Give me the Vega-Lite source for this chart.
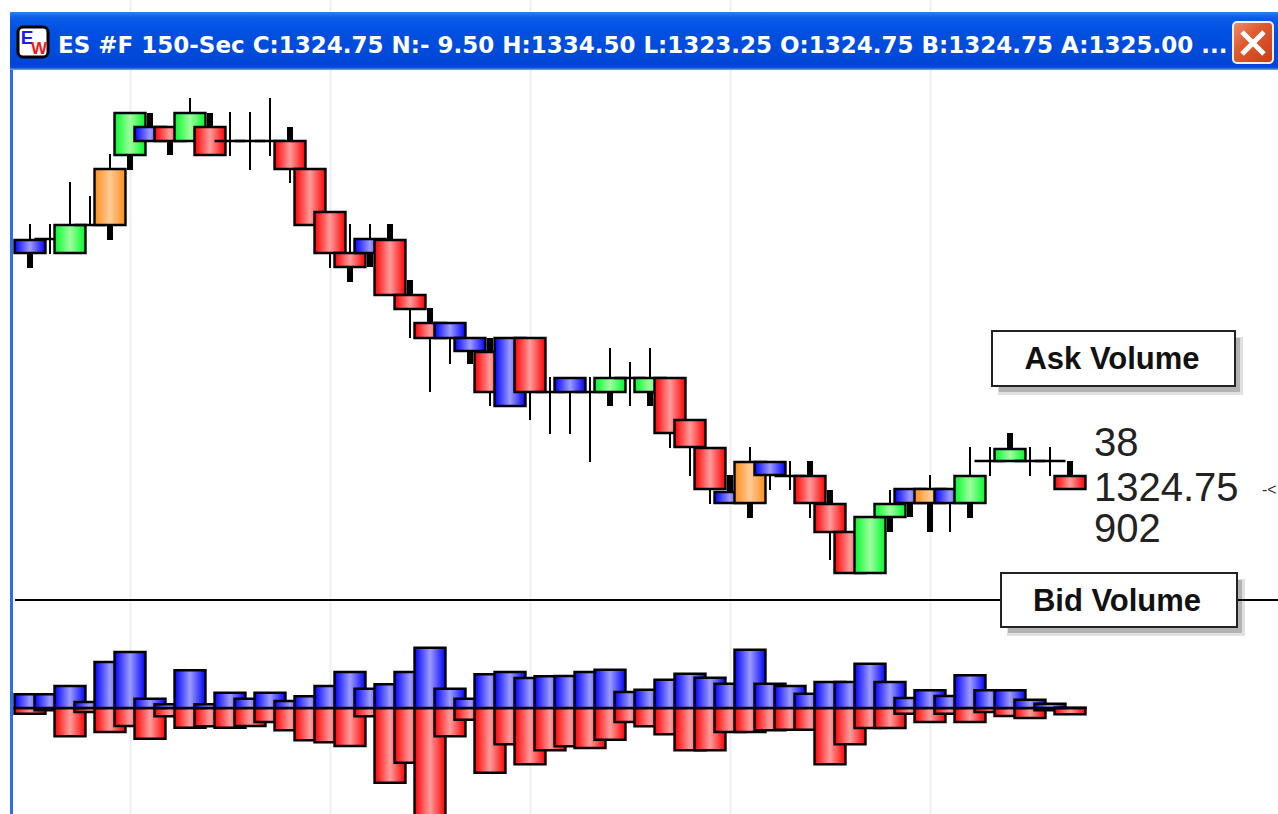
{"$schema":"https://vega.github.io/schema/vega-lite/v6.json","width":1278,"height":814,"autosize":{"type":"none"},"padding":0,"background":"white","config":{"view":{"stroke":null}},
"datasets":{"bars":[
{"bar":0,"kind":"Blue","top":1329.73,"bottom":1329.47,"ask":137,"bid":57},
{"bar":1,"kind":"Doji","top":1329.75,"bottom":1329.75,"ask":137,"bid":23},
{"bar":2,"kind":"Green","top":1330.03,"bottom":1329.47,"ask":220,"bid":283},
{"bar":3,"kind":"Doji","top":1330.03,"bottom":1330.03,"ask":60,"bid":40},
{"bar":4,"kind":"Orange","top":1331.15,"bottom":1330.03,"ask":460,"bid":240},
{"bar":5,"kind":"Green","top":1332.27,"bottom":1331.43,"ask":560,"bid":180},
{"bar":6,"kind":"Blue","top":1331.99,"bottom":1331.71,"ask":93,"bid":307},
{"bar":7,"kind":"Red","top":1331.99,"bottom":1331.71,"ask":37,"bid":83},
{"bar":8,"kind":"Green","top":1332.27,"bottom":1331.71,"ask":377,"bid":197},
{"bar":9,"kind":"Red","top":1331.99,"bottom":1331.43,"ask":37,"bid":183},
{"bar":10,"kind":"Doji","top":1331.71,"bottom":1331.71,"ask":153,"bid":197},
{"bar":11,"kind":"Doji","top":1331.71,"bottom":1331.71,"ask":93,"bid":180},
{"bar":12,"kind":"Doji","top":1331.71,"bottom":1331.71,"ask":153,"bid":140},
{"bar":13,"kind":"Red","top":1331.71,"bottom":1331.15,"ask":70,"bid":223},
{"bar":14,"kind":"Red","top":1331.15,"bottom":1330.03,"ask":117,"bid":323},
{"bar":15,"kind":"Red","top":1330.29,"bottom":1329.47,"ask":220,"bid":343},
{"bar":16,"kind":"Red","top":1329.47,"bottom":1329.19,"ask":360,"bid":380},
{"bar":17,"kind":"Blue","top":1329.75,"bottom":1329.47,"ask":193,"bid":83},
{"bar":18,"kind":"Red","top":1329.73,"bottom":1328.63,"ask":237,"bid":747},
{"bar":19,"kind":"Red","top":1328.63,"bottom":1328.35,"ask":360,"bid":547},
{"bar":20,"kind":"Red","top":1328.07,"bottom":1327.77,"ask":603,"bid":1220},
{"bar":21,"kind":"Blue","top":1328.07,"bottom":1327.77,"ask":193,"bid":283},
{"bar":22,"kind":"Blue","top":1327.77,"bottom":1327.51,"ask":93,"bid":117},
{"bar":23,"kind":"Red","top":1327.49,"bottom":1326.69,"ask":337,"bid":647},
{"bar":24,"kind":"Blue","top":1327.77,"bottom":1326.41,"ask":360,"bid":363},
{"bar":25,"kind":"Red","top":1327.77,"bottom":1326.69,"ask":300,"bid":563},
{"bar":26,"kind":"Doji","top":1326.69,"bottom":1326.69,"ask":317,"bid":423},
{"bar":27,"kind":"Blue","top":1326.97,"bottom":1326.69,"ask":320,"bid":383},
{"bar":28,"kind":"Doji","top":1326.69,"bottom":1326.69,"ask":360,"bid":400},
{"bar":29,"kind":"Green","top":1326.97,"bottom":1326.69,"ask":383,"bid":317},
{"bar":30,"kind":"Doji","top":1326.97,"bottom":1326.97,"ask":160,"bid":140},
{"bar":31,"kind":"Green","top":1326.97,"bottom":1326.69,"ask":183,"bid":183},
{"bar":32,"kind":"Red","top":1326.97,"bottom":1325.87,"ask":283,"bid":263},
{"bar":33,"kind":"Red","top":1326.13,"bottom":1325.59,"ask":343,"bid":423},
{"bar":34,"kind":"Red","top":1325.57,"bottom":1324.75,"ask":303,"bid":423},
{"bar":35,"kind":"Blue","top":1324.69,"bottom":1324.47,"ask":243,"bid":240},
{"bar":36,"kind":"Orange","top":1325.29,"bottom":1324.47,"ask":583,"bid":240},
{"bar":37,"kind":"Blue","top":1325.29,"bottom":1325.03,"ask":243,"bid":223},
{"bar":38,"kind":"Doji","top":1325.01,"bottom":1325.01,"ask":220,"bid":217},
{"bar":39,"kind":"Red","top":1325.01,"bottom":1324.47,"ask":143,"bid":217},
{"bar":40,"kind":"Red","top":1324.45,"bottom":1323.89,"ask":260,"bid":563},
{"bar":41,"kind":"Red","top":1323.89,"bottom":1323.07,"ask":260,"bid":363},
{"bar":42,"kind":"Green","top":1324.19,"bottom":1323.07,"ask":443,"bid":200},
{"bar":43,"kind":"Green","top":1324.45,"bottom":1324.19,"ask":260,"bid":200},
{"bar":44,"kind":"Blue","top":1324.75,"bottom":1324.47,"ask":100,"bid":57},
{"bar":45,"kind":"Orange","top":1324.75,"bottom":1324.47,"ask":177,"bid":140},
{"bar":46,"kind":"Blue","top":1324.75,"bottom":1324.47,"ask":120,"bid":57},
{"bar":47,"kind":"Green","top":1325.01,"bottom":1324.47,"ask":327,"bid":140},
{"bar":48,"kind":"Doji","top":1325.31,"bottom":1325.31,"ask":177,"bid":40},
{"bar":49,"kind":"Green","top":1325.55,"bottom":1325.31,"ask":177,"bid":80},
{"bar":50,"kind":"Doji","top":1325.31,"bottom":1325.31,"ask":83,"bid":100},
{"bar":51,"kind":"Doji","top":1325.31,"bottom":1325.31,"ask":43,"bid":23},
{"bar":52,"kind":"Red","top":1325.01,"bottom":1324.75,"ask":4,"bid":63}
],
"wicks":[
{"bar":0,"from":1330.05,"to":1329.73,"weight":"thin"},{"bar":0,"from":1329.47,"to":1329.17,"weight":"thick"},
{"bar":1,"from":1330.05,"to":1329.45,"weight":"thin"},
{"bar":2,"from":1330.89,"to":1330.03,"weight":"thin"},
{"bar":3,"from":1330.61,"to":1330.03,"weight":"thin"},
{"bar":4,"from":1331.45,"to":1331.15,"weight":"thin"},{"bar":4,"from":1330.03,"to":1329.73,"weight":"thick"},
{"bar":5,"from":1331.43,"to":1331.13,"weight":"thick"},
{"bar":6,"from":1332.27,"to":1331.99,"weight":"thick"},
{"bar":7,"from":1331.71,"to":1331.43,"weight":"thick"},
{"bar":8,"from":1332.57,"to":1332.27,"weight":"thin"},
{"bar":9,"from":1332.27,"to":1331.99,"weight":"thick"},
{"bar":10,"from":1332.29,"to":1331.41,"weight":"thin"},
{"bar":11,"from":1332.29,"to":1331.13,"weight":"thin"},
{"bar":12,"from":1332.57,"to":1331.41,"weight":"thin"},
{"bar":13,"from":1331.99,"to":1331.71,"weight":"thick"},{"bar":13,"from":1331.15,"to":1330.87,"weight":"thin"},
{"bar":15,"from":1329.47,"to":1329.17,"weight":"thin"},
{"bar":16,"from":1330.05,"to":1329.47,"weight":"thin"},{"bar":16,"from":1329.19,"to":1328.89,"weight":"thick"},
{"bar":17,"from":1330.05,"to":1329.75,"weight":"thin"},{"bar":17,"from":1329.47,"to":1329.19,"weight":"thick"},
{"bar":18,"from":1330.05,"to":1329.73,"weight":"thick"},
{"bar":19,"from":1328.93,"to":1328.63,"weight":"thick"},{"bar":19,"from":1328.35,"to":1327.77,"weight":"thin"},
{"bar":20,"from":1328.37,"to":1328.07,"weight":"thick"},{"bar":20,"from":1327.77,"to":1326.69,"weight":"thin"},
{"bar":21,"from":1327.77,"to":1327.25,"weight":"thin"},
{"bar":22,"from":1327.51,"to":1327.25,"weight":"thick"},
{"bar":23,"from":1327.77,"to":1327.49,"weight":"thick"},{"bar":23,"from":1326.69,"to":1326.41,"weight":"thin"},
{"bar":25,"from":1326.69,"to":1326.13,"weight":"thin"},
{"bar":26,"from":1326.99,"to":1325.85,"weight":"thin"},
{"bar":27,"from":1326.69,"to":1325.85,"weight":"thin"},
{"bar":28,"from":1326.99,"to":1325.29,"weight":"thin"},
{"bar":29,"from":1327.57,"to":1326.97,"weight":"thin"},{"bar":29,"from":1326.69,"to":1326.41,"weight":"thick"},
{"bar":30,"from":1327.29,"to":1326.41,"weight":"thin"},
{"bar":31,"from":1327.57,"to":1326.97,"weight":"thin"},{"bar":31,"from":1326.69,"to":1326.41,"weight":"thick"},
{"bar":32,"from":1325.87,"to":1325.57,"weight":"thin"},
{"bar":33,"from":1325.59,"to":1325.01,"weight":"thin"},
{"bar":34,"from":1324.75,"to":1324.45,"weight":"thin"},
{"bar":35,"from":1325.03,"to":1324.69,"weight":"thick"},
{"bar":36,"from":1325.59,"to":1325.29,"weight":"thin"},{"bar":36,"from":1324.47,"to":1324.17,"weight":"thick"},
{"bar":37,"from":1325.03,"to":1324.73,"weight":"thin"},
{"bar":38,"from":1325.31,"to":1324.73,"weight":"thin"},
{"bar":39,"from":1325.31,"to":1325.01,"weight":"thick"},{"bar":39,"from":1324.47,"to":1324.17,"weight":"thin"},
{"bar":40,"from":1324.73,"to":1324.45,"weight":"thick"},{"bar":40,"from":1323.89,"to":1323.33,"weight":"thin"},
{"bar":43,"from":1324.73,"to":1324.45,"weight":"thin"},{"bar":43,"from":1324.19,"to":1323.89,"weight":"thick"},
{"bar":44,"from":1324.47,"to":1324.19,"weight":"thick"},
{"bar":45,"from":1325.03,"to":1324.75,"weight":"thin"},{"bar":45,"from":1324.47,"to":1323.89,"weight":"thick"},
{"bar":46,"from":1324.47,"to":1323.89,"weight":"thin"},
{"bar":47,"from":1325.59,"to":1325.01,"weight":"thin"},{"bar":47,"from":1324.47,"to":1324.17,"weight":"thick"},
{"bar":48,"from":1325.59,"to":1325.01,"weight":"thin"},
{"bar":49,"from":1325.87,"to":1325.55,"weight":"thick"},
{"bar":50,"from":1325.59,"to":1325.01,"weight":"thin"},
{"bar":51,"from":1325.59,"to":1325.01,"weight":"thin"},
{"bar":52,"from":1325.31,"to":1325.01,"weight":"thick"}
]},
"resolve":{"scale":{"y":"independent"}},
"layer":[
  {"data":{"name":"bars"},"mark":{"type":"bar","size":31,"stroke":"#000000","strokeWidth":2.4,"clip":true,"fill":{"gradient":"linear","x1":0,"y1":0,"x2":1,"y2":0,"stops":[{"offset":0,"color":"#ff0000"},{"offset":0.5,"color":"#ff9c9c"},{"offset":1,"color":"#ff0000"}]}},
   "encoding":{"x":{"field":"bar","type":"quantitative","scale":{"domain":[-1.5,62.4],"nice":false,"zero":false,"padding":0},"axis":{"values":[5,15,25,35,45],"grid":true,"gridColor":"#eeeeee","gridWidth":2,"labels":false,"ticks":false,"domain":false,"title":null,"labelPadding":0,"tickSize":0}},
   "y":{"field":"bid","type":"quantitative","stack":null,"scale":{"domain":[1060,-7080],"nice":false,"zero":false},"axis":null},"y2":{"datum":0}}},
  {"data":{"name":"bars"},"mark":{"type":"bar","size":31,"stroke":"#000000","strokeWidth":2.4,"clip":true,"fill":{"gradient":"linear","x1":0,"y1":0,"x2":1,"y2":0,"stops":[{"offset":0,"color":"#0000ff"},{"offset":0.5,"color":"#9c9cff"},{"offset":1,"color":"#0000ff"}]}},
   "encoding":{"x":{"field":"bar","type":"quantitative"},"y":{"field":"ask","type":"quantitative","stack":null,"scale":{"domain":[-1060,7080],"nice":false,"zero":false},"axis":null},"y2":{"datum":0}}},
{"data":{"values":[{}]},
 "layer":[
  {"data":{"name":"wicks"},"mark":{"type":"rule","color":"#000000"},
   "encoding":{"x":{"field":"bar","type":"quantitative"},"y":{"field":"from","type":"quantitative","scale":{"domain":[1318.25,1334.53],"nice":false,"zero":false},"axis":null},"y2":{"field":"to"},
   "size":{"field":"weight","type":"nominal","scale":{"domain":["thin","thick"],"range":[2,6]},"legend":null}}},
  {"data":{"name":"bars"},"mark":{"type":"bar","size":31,"stroke":"#000000","strokeWidth":2.4},
   "encoding":{"x":{"field":"bar","type":"quantitative"},"y":{"field":"top","type":"quantitative"},"y2":{"field":"bottom"},
   "fill":{"condition":[
    {"test":"datum.kind==='Red'","value":{"gradient":"linear","x1":0,"y1":0,"x2":1,"y2":0,"stops":[{"offset":0,"color":"#ff0000"},{"offset":0.5,"color":"#ff9c9c"},{"offset":1,"color":"#ff0000"}]}},
    {"test":"datum.kind==='Blue'","value":{"gradient":"linear","x1":0,"y1":0,"x2":1,"y2":0,"stops":[{"offset":0,"color":"#0000ff"},{"offset":0.5,"color":"#9c9cff"},{"offset":1,"color":"#0000ff"}]}},
    {"test":"datum.kind==='Green'","value":{"gradient":"linear","x1":0,"y1":0,"x2":1,"y2":0,"stops":[{"offset":0,"color":"#00f82a"},{"offset":0.5,"color":"#a0ffa0"},{"offset":1,"color":"#00f82a"}]}},
    {"test":"datum.kind==='Orange'","value":{"gradient":"linear","x1":0,"y1":0,"x2":1,"y2":0,"stops":[{"offset":0,"color":"#ff8c1a"},{"offset":0.5,"color":"#ffcc96"},{"offset":1,"color":"#ff8c1a"}]}}
    ],"value":"#000000"}}},
  {"mark":{"type":"rule","color":"#000000","strokeWidth":2},"encoding":{"x":{"datum":-0.75,"type":"quantitative"},"x2":{"datum":62.4},"y":{"datum":1322.53,"type":"quantitative"}}},
  {"mark":{"type":"rect","fill":"#2a6fe8"},"encoding":{"x":{"datum":-1,"type":"quantitative"},"x2":{"datum":-0.85},"y":{"datum":1334.29,"type":"quantitative"},"y2":{"datum":1318.25}}},
  {"mark":{"type":"rect","fill":{"gradient":"linear","x1":0,"y1":0,"x2":0,"y2":1,"stops":[{"offset":0,"color":"#2a80f5"},{"offset":0.1,"color":"#0a5ce8"},{"offset":0.35,"color":"#0050e0"},{"offset":0.9,"color":"#0046d6"},{"offset":0.96,"color":"#0a4dd0"},{"offset":1,"color":"#8aa5e8"}]}},"encoding":{"x":{"datum":-1,"type":"quantitative"},"x2":{"datum":62.4},"y":{"datum":1334.29,"type":"quantitative"},"y2":{"datum":1333.13}}},
  {"mark":{"type":"rect","fill":"#ffffff","stroke":"#000000","strokeWidth":3,"cornerRadius":5},"encoding":{"x":{"datum":-0.6,"type":"quantitative"},"x2":{"datum":0.9},"y":{"datum":1333.99,"type":"quantitative"},"y2":{"datum":1333.39}}},
  {"mark":{"type":"text","text":"E","font":"Liberation Sans","fontWeight":"bold","fontSize":19,"color":"#1a1aee"},"encoding":{"x":{"datum":-0.15,"type":"quantitative"},"y":{"datum":1333.77,"type":"quantitative"}}},
  {"mark":{"type":"text","text":"W","font":"Liberation Sans","fontWeight":"bold","fontSize":17,"color":"#ee1a1a"},"encoding":{"x":{"datum":0.45,"type":"quantitative"},"y":{"datum":1333.55,"type":"quantitative"}}},
  {"mark":{"type":"text","text":"ES #F 150-Sec C:1324.75 N:- 9.50 H:1334.50 L:1323.25 O:1324.75 B:1324.75 A:1325.00 ...","font":"DejaVu Sans","fontWeight":"bold","fontSize":23,"align":"left","baseline":"middle","color":"#ffffff","dy":1},"encoding":{"x":{"datum":1.4,"type":"quantitative"},"y":{"datum":1333.63,"type":"quantitative"}}},
  {"mark":{"type":"rect","stroke":"#f0f0f0","strokeWidth":2,"cornerRadius":4,"fill":{"gradient":"linear","x1":0,"y1":0,"x2":1,"y2":1,"stops":[{"offset":0,"color":"#f09070"},{"offset":0.4,"color":"#e05a30"},{"offset":1,"color":"#c83c14"}]}},"encoding":{"x":{"datum":60.15,"type":"quantitative"},"x2":{"datum":62.15},"y":{"datum":1334.09,"type":"quantitative"},"y2":{"datum":1333.27}}},
  {"mark":{"type":"point","shape":"M-1,-1L1,1M-1,1L1,-1","filled":false,"stroke":"#ffffff","strokeWidth":5,"size":480,"opacity":1},"encoding":{"x":{"datum":61.15,"type":"quantitative"},"y":{"datum":1333.67,"type":"quantitative"}}},
  {"mark":{"type":"rect","fill":"#000000","opacity":0.12},"encoding":{"x":{"datum":48.4,"type":"quantitative"},"x2":{"datum":60.65},"y":{"datum":1327.79,"type":"quantitative"},"y2":{"datum":1326.63}}},
  {"mark":{"type":"rect","fill":"#000000","opacity":0.2},"encoding":{"x":{"datum":48.45,"type":"quantitative"},"x2":{"datum":60.5},"y":{"datum":1327.77,"type":"quantitative"},"y2":{"datum":1326.69}}},
  {"mark":{"type":"rect","fill":"#ffffff","stroke":"#222222","strokeWidth":2},"encoding":{"x":{"datum":48.1,"type":"quantitative"},"x2":{"datum":60.25},"y":{"datum":1327.91,"type":"quantitative"},"y2":{"datum":1326.81}}},
  {"mark":{"type":"text","text":"Ask Volume","font":"Liberation Sans","fontWeight":"bold","fontSize":31,"baseline":"middle","color":"#111111","dy":2},"encoding":{"x":{"datum":54.1,"type":"quantitative"},"y":{"datum":1327.37,"type":"quantitative"}}},
  {"mark":{"type":"rect","fill":"#000000","opacity":0.12},"encoding":{"x":{"datum":48.85,"type":"quantitative"},"x2":{"datum":60.75},"y":{"datum":1322.95,"type":"quantitative"},"y2":{"datum":1321.81}}},
  {"mark":{"type":"rect","fill":"#000000","opacity":0.2},"encoding":{"x":{"datum":48.9,"type":"quantitative"},"x2":{"datum":60.6},"y":{"datum":1322.93,"type":"quantitative"},"y2":{"datum":1321.87}}},
  {"mark":{"type":"rect","fill":"#ffffff","stroke":"#222222","strokeWidth":2},"encoding":{"x":{"datum":48.55,"type":"quantitative"},"x2":{"datum":60.35},"y":{"datum":1323.07,"type":"quantitative"},"y2":{"datum":1321.99}}},
  {"mark":{"type":"text","text":"Bid Volume","font":"Liberation Sans","fontWeight":"bold","fontSize":31,"baseline":"middle","color":"#111111","dy":2},"encoding":{"x":{"datum":54.35,"type":"quantitative"},"y":{"datum":1322.53,"type":"quantitative"}}},
  {"mark":{"type":"text","text":"38","font":"Liberation Sans","fontSize":40,"align":"left","baseline":"middle","color":"#222222","dy":2},"encoding":{"x":{"datum":53.2,"type":"quantitative"},"y":{"datum":1325.69,"type":"quantitative"}}},
  {"mark":{"type":"text","text":"1324.75","font":"Liberation Sans","fontSize":40,"align":"left","baseline":"middle","color":"#222222","dy":2},"encoding":{"x":{"datum":53.2,"type":"quantitative"},"y":{"datum":1324.79,"type":"quantitative"}}},
  {"mark":{"type":"text","text":"902","font":"Liberation Sans","fontSize":40,"align":"left","baseline":"middle","color":"#222222","dy":1},"encoding":{"x":{"datum":53.2,"type":"quantitative"},"y":{"datum":1323.95,"type":"quantitative"}}},
  {"mark":{"type":"text","text":"-<","font":"Liberation Sans","fontSize":16,"align":"left","baseline":"middle","color":"#333333"},"encoding":{"x":{"datum":61.6,"type":"quantitative"},"y":{"datum":1324.73,"type":"quantitative"}}}
 ]}
]}
